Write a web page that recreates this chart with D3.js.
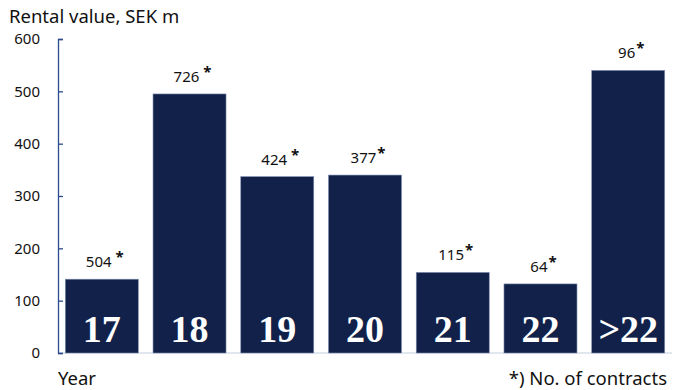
<!DOCTYPE html>
<html>
<head>
<meta charset="utf-8">
<script src="https://cdn.jsdelivr.net/npm/d3@7"></script>
<style>
  body { margin: 0; background: #fff; }
  text { font-family: "Noto Sans", "Open Sans", sans-serif; }
</style>
</head>
<body>
<svg width="679" height="390"></svg>
<script>
const years = ["17", "18", "19", "20", "21", "22", ">22"];
const rentalValue = [141, 495, 337, 340, 154, 132, 540];
const contracts = ["504", "726", "424", "377", "115", "64", "96"];
const spaced = [true, true, true, false, false, false, false];
const yTicks = [0, 100, 200, 300, 400, 500, 600];

const svg = d3.select("svg");

const x = d3.scaleBand()
  .domain(years)
  .range([58, 672])
  .paddingInner(0.168)
  .paddingOuter(0.083);

const y = d3.scaleLinear()
  .domain([0, 600])
  .range([353, 39]);

// baseline
svg.append("line")
  .attr("x1", 58).attr("x2", 672)
  .attr("y1", y(0)).attr("y2", y(0))
  .attr("stroke", "#c5cde0")
  .attr("stroke-width", 1.2);

const yAxis = svg.append("g")
  .attr("transform", "translate(58,0)")
  .call(d3.axisLeft(y).tickValues(yTicks).tickSize(-5).tickPadding(18));

yAxis.selectAll("path, line").attr("stroke", "#2c4a8c").attr("stroke-width", 1.3);
yAxis.selectAll("text")
  .attr("font-size", 15)
  .attr("fill", "#111")
  .style("font-family", "'Noto Sans', sans-serif");

const bars = svg.append("g").selectAll("g")
  .data(years)
  .enter().append("g");

bars.append("rect")
  .attr("x", d => x(d))
  .attr("width", x.bandwidth())
  .attr("y", (d, i) => y(rentalValue[i]))
  .attr("height", (d, i) => y(0) - y(rentalValue[i]))
  .attr("fill", "#112149")
  .attr("stroke", "#7f8db0")
  .attr("stroke-width", 0.6);

bars.append("text")
  .attr("x", d => x(d) + x.bandwidth() / 2)
  .attr("y", 342)
  .attr("text-anchor", "middle")
  .attr("fill", "#fff")
  .attr("font-size", 38)
  .attr("font-weight", "bold")
  .style("font-family", "'Liberation Serif', 'DejaVu Serif', serif")
  .text(d => d);

const lbl = bars.append("text")
  .attr("x", d => x(d) + x.bandwidth() / 2 + 3)
  .attr("y", (d, i) => y(rentalValue[i]) - 12)
  .attr("text-anchor", "middle")
  .attr("font-size", 15)
  .attr("fill", "#111");

lbl.append("tspan").text((d, i) => contracts[i]);
lbl.append("tspan")
  .attr("dx", (d, i) => spaced[i] ? 4 : 1)
  .attr("dy", -5)
  .attr("font-weight", "bold")
  .text("*");

svg.append("text")
  .attr("x", 9).attr("y", 23)
  .attr("font-size", 18.5)
  .attr("fill", "#111")
  .text("Rental value, SEK m");

svg.append("text")
  .attr("x", 58).attr("y", 385)
  .attr("font-size", 18.5)
  .attr("fill", "#111")
  .text("Year");

svg.append("text")
  .attr("x", 667).attr("y", 385)
  .attr("text-anchor", "end")
  .attr("font-size", 18.5)
  .attr("fill", "#111")
  .text("*) No. of contracts");
</script>
</body>
</html>
